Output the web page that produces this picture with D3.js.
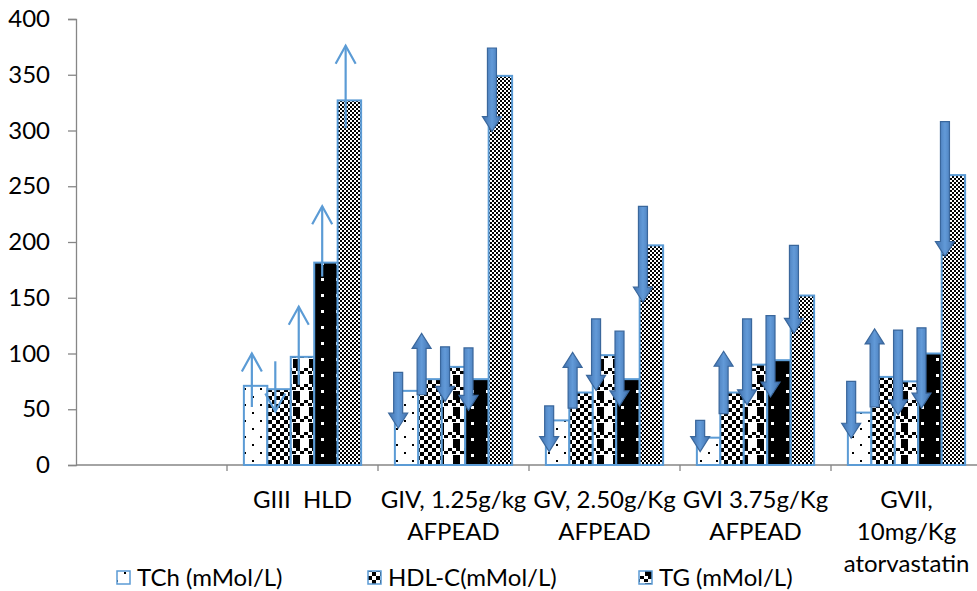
<!doctype html>
<html>
<head>
<meta charset="utf-8">
<style>
  body { margin: 0; background: #fff; }
  text { font-family: Lato, "Open Sans", sans-serif; fill: #000; white-space: pre; }
</style>
<script src="https://cdn.jsdelivr.net/npm/d3@7/dist/d3.min.js"></script>
</head>
<body>
<script>

// groups on the x axis (first one is empty in the original)
var categories = ["", "GIII  HLD", "GIV, 1.25g/kg AFPEAD", "GV, 2.50g/Kg AFPEAD", "GVI 3.75g/Kg AFPEAD", "GVII, 10mg/Kg atorvastatin"];
var categoryLines = [[], ["GIII  HLD"], ["GIV, 1.25g/kg", "AFPEAD"], ["GV, 2.50g/Kg", "AFPEAD"], ["GVI 3.75g/Kg", "AFPEAD"], ["GVII,", "10mg/Kg", "atorvastatin"]];

// series (only the first three legend entries are visible in the picture)
var seriesNames = ["TCh (mMol/L)", "HDL-C(mMol/L)", "TG (mMol/L)", "LDL-C (mMol/L)", "VLDL-C (mMol/L)"];
var tch   = [null, 71, 66.5, 40, 24.5, 47];
var hdl   = [null, 68, 77, 65, 65, 79];
var tg    = [null, 97, 88, 98.5, 90, 75];
var ldl   = [null, 181.5, 77, 77, 94, 100];
var vldl  = [null, 327, 349, 197, 152, 260];

// arrow annotations: [from, to] per group, one array per series
var tchArrows  = [null, [52, 100], [83, 33], [53, 12], [40, 12], [75, 24]];
var hdlArrows  = [null, [93, 48], [63, 118], [51, 101], [46, 102], [52, 122]];
var tgArrows   = [null, [72, 142], [106, 57], [131, 67], [131, 54], [121, 45]];
var ldlArrows  = [null, [169, 232], [105, 49], [120, 53], [134, 61], [123, 51]];
var vldlArrows = [null, [302, 376], [374, 299], [232, 146], [197, 118], [308, 187]];

var yTicks = [0, 50, 100, 150, 200, 250, 300, 350, 400];

var values = [tch, hdl, tg, ldl, vldl];
var arrows = [tchArrows, hdlArrows, tgArrows, ldlArrows, vldlArrows];
var legendShown = 3;

var width = 977, height = 591;
var svg = d3.select("body").append("svg")
    .attr("width", width)
    .attr("height", height);

// patterns
var defs = svg.append("defs");
function pat(id, w, h, bg) {
  var p = defs.append("pattern").attr("id", id)
      .attr("patternUnits", "userSpaceOnUse")
      .attr("width", w).attr("height", h);
  p.append("rect").attr("width", w).attr("height", h).attr("fill", bg);
  return p;
}
var p1 = pat("p1", 16, 16, "#fff");
p1.append("rect").attr("x", 4).attr("y", 4).attr("width", 2).attr("height", 2).attr("fill", "#000");
p1.append("rect").attr("x", 12).attr("y", 12).attr("width", 2).attr("height", 2).attr("fill", "#000");

var p2 = pat("p2", 8, 8, "#fff");
p2.append("rect").attr("x", 0).attr("y", 0).attr("width", 4).attr("height", 4).attr("fill", "#000");
p2.append("rect").attr("x", 4).attr("y", 4).attr("width", 4).attr("height", 4).attr("fill", "#000");

var p3 = pat("p3", 16, 16, "#fff");
[[0, 0], [4, 3], [8, 0], [12, 3]].forEach(function(c) {
  p3.append("rect").attr("x", c[0]).attr("y", c[1]).attr("width", 4).attr("height", 3).attr("fill", "#000");
});
p3.append("rect").attr("x", 5).attr("y", 7).attr("width", 7).attr("height", 9).attr("fill", "#000");

var p4 = pat("p4", 15, 16, "#000");
p4.append("rect").attr("x", 6).attr("y", 6).attr("width", 3).attr("height", 3).attr("fill", "#fff");

var p5 = pat("p5", 4, 4, "#fff");
p5.append("rect").attr("x", 0).attr("y", 0).attr("width", 2).attr("height", 2).attr("fill", "#000");
p5.append("rect").attr("x", 2).attr("y", 2).attr("width", 2).attr("height", 2).attr("fill", "#000");

var fills = ["url(#p1)", "url(#p2)", "url(#p3)", "url(#p4)", "url(#p5)"];

var grad = defs.append("linearGradient").attr("id", "arrowGrad")
    .attr("x1", "0%").attr("x2", "100%").attr("y1", "0%").attr("y2", "0%");
grad.append("stop").attr("offset", "0%").attr("stop-color", "#3f70ad");
grad.append("stop").attr("offset", "50%").attr("stop-color", "#629ad8");
grad.append("stop").attr("offset", "100%").attr("stop-color", "#3f70ad");

// scales
var y = d3.scaleLinear().domain([0, 400]).range([465, 19]);
var x = d3.scaleBand().domain(categories).range([76, 982]);
var inner = d3.scaleBand().domain(d3.range(values.length))
    .range([0, x.bandwidth()]).paddingOuter(0.72).paddingInner(0);

// y axis
var yAxis = svg.append("g")
    .attr("transform", "translate(76,0)")
    .call(d3.axisLeft(y).tickValues(yTicks).tickSize(8).tickPadding(18));
yAxis.select(".domain").attr("stroke", "#868686").attr("stroke-width", 1.3);
yAxis.selectAll(".tick line").attr("stroke", "#868686").attr("stroke-width", 1.3);
yAxis.selectAll(".tick text").style("font-size", "24px").style("font-family", "Lato, sans-serif").attr("fill", "#000");

// x axis line and boundary ticks
svg.append("line").attr("x1", 76).attr("x2", width).attr("y1", y(0)).attr("y2", y(0))
    .attr("stroke", "#868686").attr("stroke-width", 1.3);
svg.selectAll("line.xtick").data(categories.slice(1)).enter().append("line")
    .attr("class", "xtick")
    .attr("x1", function(d) { return x(d); }).attr("x2", function(d) { return x(d); })
    .attr("y1", y(0)).attr("y2", y(0) + 6)
    .attr("stroke", "#868686").attr("stroke-width", 1.3);

// bars
var bars = [];
values.forEach(function(arr, s) {
  arr.forEach(function(v, i) {
    if (v != null) bars.push({ s: s, i: i, v: v });
  });
});
svg.selectAll("rect.bar").data(bars).enter().append("rect")
    .attr("class", "bar")
    .attr("x", function(d) { return x(categories[d.i]) + inner(d.s); })
    .attr("width", inner.bandwidth())
    .attr("y", function(d) { return y(d.v); })
    .attr("height", function(d) { return y(0) - y(d.v); })
    .attr("fill", function(d) { return fills[d.s]; })
    .attr("stroke", "#5b9bd5")
    .attr("stroke-width", 2);

// arrows
var arrowData = [];
arrows.forEach(function(arr, s) {
  arr.forEach(function(a, i) {
    if (a) arrowData.push({ s: s, i: i, from: a[0], to: a[1] });
  });
});
var thinGroup = 1;
arrowData.forEach(function(d) {
  var bx = x(categories[d.i]) + inner(d.s);
  var y0 = y(d.from), y1 = y(d.to);
  var dir = y1 < y0 ? -1 : 1;
  if (d.i === thinGroup) {
    var ax = bx + inner.bandwidth() * 0.34;
    var g = svg.append("g").attr("stroke", "#5b9bd5").attr("stroke-width", 2.2).attr("fill", "none");
    g.append("line").attr("x1", ax).attr("x2", ax).attr("y1", y0).attr("y2", y1);
    g.append("path").attr("d", "M" + (ax - 10) + "," + (y1 - dir * 18) + "L" + ax + "," + y1 + "L" + (ax + 10) + "," + (y1 - dir * 18));
  } else {
    var cx = bx + inner.bandwidth() * 0.14;
    var sw = 4.5, hw = 9.5, hl = 15;
    var yh = y1 - dir * hl;
    var pts = [[cx - sw, y0], [cx + sw, y0], [cx + sw, yh], [cx + hw, yh], [cx, y1], [cx - hw, yh], [cx - sw, yh]];
    svg.append("path")
        .attr("d", "M" + pts.map(function(p) { return p[0] + "," + p[1]; }).join("L") + "Z")
        .attr("fill", "url(#arrowGrad)")
        .attr("stroke", "#3a679c")
        .attr("stroke-width", 1.2);
  }
});

// category labels
categoryLines.forEach(function(lines, i) {
  var cx = x(categories[i]) + x.bandwidth() / 2;
  lines.forEach(function(t, k) {
    svg.append("text")
        .attr("x", cx).attr("y", 500 + k * 32)
        .attr("dy", "0.35em")
        .attr("text-anchor", "middle")
        .style("font-size", "24px")
        .text(t);
  });
});

// legend
var legendX = [117, 368, 639];
seriesNames.slice(0, legendShown).forEach(function(name, s) {
  svg.append("rect")
      .attr("x", legendX[s]).attr("y", 571).attr("width", 13).attr("height", 13)
      .attr("fill", fills[s]).attr("stroke", "#5b9bd5").attr("stroke-width", 1.5);
  svg.append("text")
      .attr("x", legendX[s] + 20).attr("y", 578)
      .attr("dy", "0.35em")
      .style("font-size", "24px")
      .text(name);
});
</script>
</body>
</html>
